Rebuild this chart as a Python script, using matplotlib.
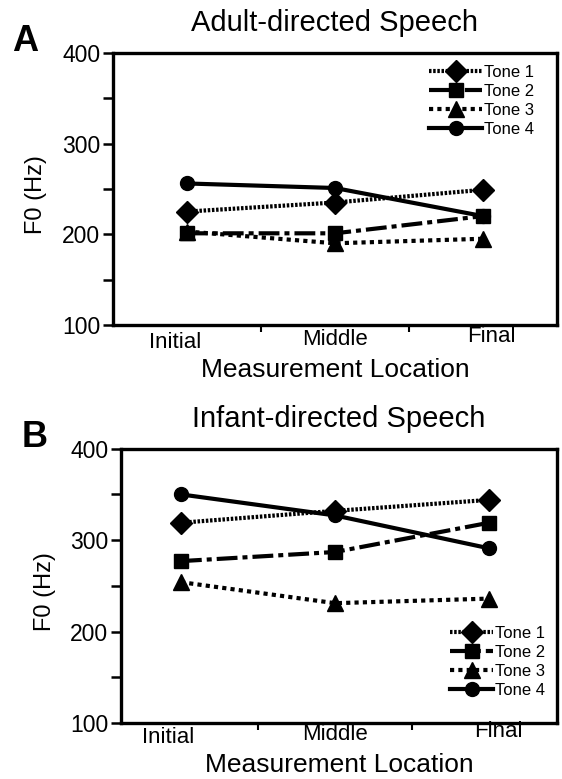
import matplotlib
matplotlib.use("Agg")
import matplotlib.pyplot as plt

plt.rcParams["font.family"] = ["Liberation Sans", "DejaVu Sans"]

locations = ["Initial", "Middle", "Final"]
tone_labels = ["Tone 1", "Tone 2", "Tone 3", "Tone 4"]

# F0 values (Hz)
adult_f0 = {
    "Tone 1": [225, 235, 249],
    "Tone 2": [201, 201, 220],
    "Tone 3": [203, 190, 195],
    "Tone 4": [256, 251, 220],
}
infant_f0 = {
    "Tone 1": [319, 332, 344],
    "Tone 2": [277, 287, 319],
    "Tone 3": [254, 231, 236],
    "Tone 4": [350, 327, 291],
}

styles = {
    "Tone 1": dict(ls=(0, (0.6, 0.4)), marker="D", ms=11),
    "Tone 2": dict(ls=(0, (5, 1.2, 1.2, 1.2)), marker="s", ms=10),
    "Tone 3": dict(ls=(0, (1, 1)), marker="^", ms=11),
    "Tone 4": dict(ls="-", marker="o", ms=10),
}

# x-label nudges to mimic the slightly skewed scan
label_dx = [-0.08, 0.0, 0.06]


def draw_panel(ax, data, title, letter, xlim, tick_y, legend_kw):
    x = range(len(locations))
    for tone in tone_labels:
        st = styles[tone]
        ax.plot(x, data[tone], color="black", lw=3, linestyle=st["ls"],
                dash_capstyle="butt", marker=st["marker"], markersize=st["ms"],
                label=tone)
    ax.set_xlim(*xlim)
    ax.set_ylim(100, 400)
    ax.set_yticks([100, 200, 300, 400])
    ax.set_yticks([150, 250, 350], minor=True)
    ax.tick_params(axis="y", which="both", direction="out", length=7, width=1.8,
                   labelsize=16.5, pad=2)
    ax.set_xticks([0.5, 1.5])
    ax.set_xticklabels([])
    ax.tick_params(axis="x", direction="out", length=5, width=1.5)
    for i, lab in enumerate(locations):
        ax.text(i + label_dx[i], tick_y[i], lab, transform=ax.get_xaxis_transform(),
                ha="center", va="center", fontsize=16)
    for s in ax.spines.values():
        s.set_linewidth(2.4)
    ax.set_xlabel("Measurement Location", fontsize=19)
    ax.xaxis.set_label_coords(0.5, tick_y[1] - 0.11)
    ax.xaxis.label.set_va("center")
    ax.set_ylabel("F0 (Hz)", fontsize=17)
    ax.yaxis.set_label_coords(-0.174, 0.48)
    ax.yaxis.label.set_va("center")
    ax.set_title(title, fontsize=21, y=1.11, va="center", pad=0)
    ax.text(-0.198, 1.042, letter, transform=ax.transAxes, fontsize=26,
            fontweight="bold", ha="center", va="center")
    ax.legend(frameon=False, fontsize=12, handletextpad=0.1, labelspacing=0.25,
              borderpad=0, borderaxespad=0, **legend_kw)


fig = plt.figure(figsize=(5.62, 7.79), dpi=100)
ax1 = fig.add_axes([0.201, 0.583, 0.790, 0.349])
ax2 = fig.add_axes([0.215, 0.072, 0.776, 0.352])

draw_panel(ax1, adult_f0, "Adult-directed Speech", "A", (-0.5, 2.5),
           [-0.066, -0.055, -0.044],
           dict(loc="upper left", bbox_to_anchor=(0.712, 0.957), handlelength=3.2))
draw_panel(ax2, infant_f0, "Infant-directed Speech", "B", (-0.39, 2.44),
           [-0.055, -0.044, -0.033],
           dict(loc="lower left", bbox_to_anchor=(0.755, 0.09), handlelength=2.6))

fig.savefig("out.png", dpi=100)
